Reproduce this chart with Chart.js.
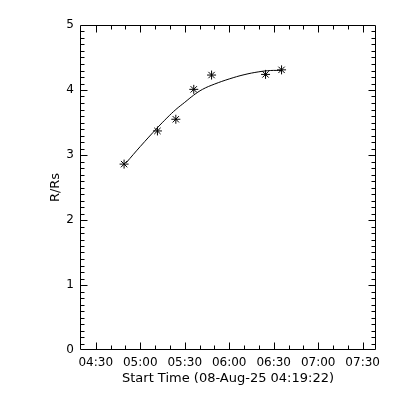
<!DOCTYPE html>
<html>
<head>
<meta charset="utf-8">
<script src="https://cdn.jsdelivr.net/npm/chart.js@4.4.0/dist/chart.umd.min.js"></script>
<style>
  html, body { margin: 0; padding: 0; background: #fff; }
</style>
</head>
<body>
<canvas id="heightTime" width="400" height="400"></canvas>
<script>
// times are minutes after 04:30 (08-Aug-25), heights in R/Rs
let obsTimes = [19.1, 41.6, 54.0, 66.1, 78.1, 114.5, 125.3];
let obsHeights = [2.86, 3.37, 3.55, 4.01, 4.23, 4.24, 4.31];

// fitted curve
let fitTimes = [20.5, 30.0, 41.6, 48.0, 54.0, 60.0, 66.0, 72.0, 80.0, 90.0, 100.0, 110.0, 118.0, 125.3];
let fitHeights = [2.88, 3.13, 3.42, 3.57, 3.70, 3.81, 3.92, 4.01, 4.09, 4.17, 4.235, 4.28, 4.30, 4.30];

let xTickValues = [0, 30, 60, 90, 120, 150, 180];
let xTickLabels = ['04:30', '05:00', '05:30', '06:00', '06:30', '07:00', '07:30'];
let yTickValues = [0, 1, 2, 3, 4, 5];
let yTickLabels = ['0', '1', '2', '3', '4', '5'];

let xStart = -10.63; // 04:19:22
let xEnd = 189;

function toPoints(xs, ys) {
    let pts = [];
    for (let i = 0; i < xs.length; i++) {
        pts.push({x: xs[i], y: ys[i]});
    }
    return pts;
}

// IDL style box with inward ticks on all four sides
const idlAxes = {
    id: 'idlAxes',
    afterDraw(chart) {
        const ctx = chart.ctx;
        const a = chart.chartArea;
        const xs = chart.scales.x;
        const ys = chart.scales.y;
        const L = Math.round(a.left) + 0.5, R = Math.round(a.right) - 0.5;
        const T = Math.round(a.top) + 0.5, B = Math.round(a.bottom) - 0.5;
        ctx.save();
        ctx.strokeStyle = '#000';
        ctx.lineWidth = 1;
        ctx.beginPath();
        ctx.rect(L, T, R - L, B - T);

        // x ticks every 10 min, major every 30
        for (let m = -10; m <= xEnd; m += 10) {
            let px = Math.round(xs.getPixelForValue(m)) + 0.5;
            if (px <= L + 1 || px >= R - 1) continue;
            let len = (m % 30 === 0) ? 7 : 4;
            ctx.moveTo(px, B); ctx.lineTo(px, B - len);
            ctx.moveTo(px, T); ctx.lineTo(px, T + len);
        }
        // y ticks every 0.1, major every 1
        for (let k = 1; k < 50; k++) {
            let py = Math.round(ys.getPixelForValue(k / 10)) + 0.5;
            let len = (k % 10 === 0) ? 7 : 4;
            ctx.moveTo(L, py); ctx.lineTo(L + len, py);
            ctx.moveTo(R, py); ctx.lineTo(R - len, py);
        }
        ctx.stroke();
        ctx.restore();
    }
};

const labelFont = {family: 'DejaVu Sans', size: 12};
const titleFont = {family: 'DejaVu Sans', size: 13};

new Chart(document.getElementById('heightTime'), {
    type: 'scatter',
    data: {
        datasets: [
            {
                label: 'fit',
                data: toPoints(fitTimes, fitHeights),
                showLine: true,
                borderColor: '#000',
                borderWidth: 1,
                pointRadius: 0,
                tension: 0.4
            },
            {
                label: 'R/Rs',
                data: toPoints(obsTimes, obsHeights),
                pointStyle: 'star',
                pointRadius: 4.5,
                borderColor: '#000',
                backgroundColor: '#000',
                pointBorderWidth: 1
            }
        ]
    },
    options: {
        responsive: false,
        animation: false,
        devicePixelRatio: 1,
        layout: {
            padding: {left: 0, top: 25, right: 24, bottom: 0}
        },
        plugins: {
            legend: {display: false},
            tooltip: {enabled: false}
        },
        scales: {
            x: {
                type: 'linear',
                min: xStart,
                max: xEnd,
                afterFit: (scale) => { scale.height = 50; },
                afterBuildTicks: (scale) => {
                    scale.ticks = xTickValues.map(v => ({value: v}));
                },
                grid: {display: false, drawTicks: false},
                border: {display: false},
                ticks: {
                    color: '#000',
                    font: labelFont,
                    padding: 6,
                    maxRotation: 0,
                    autoSkip: false,
                    callback: (v, i) => xTickLabels[i]
                },
                title: {
                    display: true,
                    text: 'Start Time (08-Aug-25 04:19:22)',
                    color: '#000',
                    font: titleFont,
                    padding: {top: 0, bottom: 14}
                }
            },
            y: {
                type: 'linear',
                min: 0,
                max: 5,
                afterFit: (scale) => { scale.width = 80; },
                afterBuildTicks: (scale) => {
                    scale.ticks = yTickValues.map(v => ({value: v}));
                },
                grid: {display: false, drawTicks: false},
                border: {display: false},
                ticks: {
                    color: '#000',
                    font: labelFont,
                    padding: 6,
                    callback: (v, i) => yTickLabels[i]
                },
                title: {
                    display: true,
                    text: 'R/Rs',
                    color: '#000',
                    font: titleFont,
                    padding: {top: 48, bottom: 0}
                }
            }
        }
    },
    plugins: [idlAxes]
});
</script>
</body>
</html>
